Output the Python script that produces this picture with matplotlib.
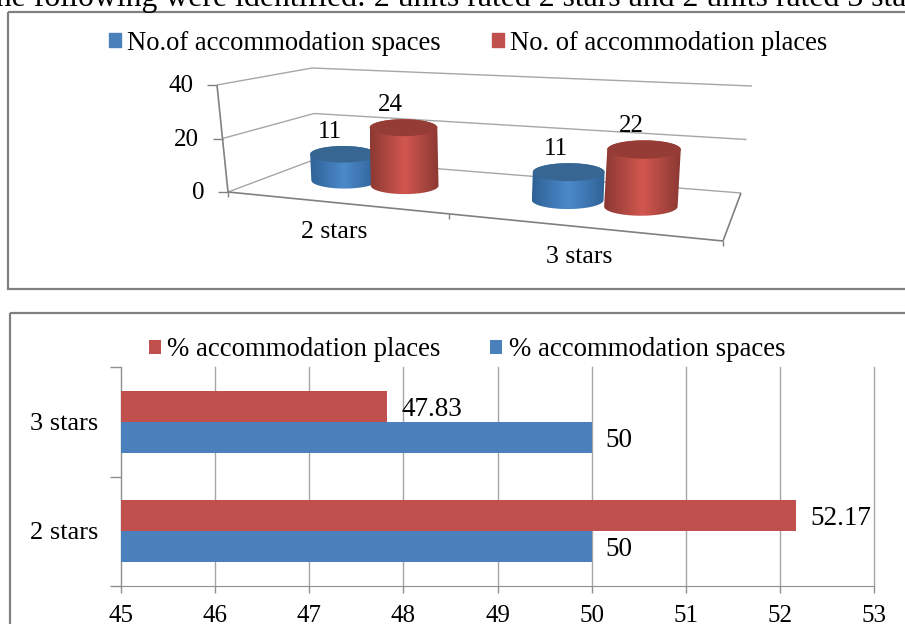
import numpy as np
import matplotlib
matplotlib.use('Agg')
import matplotlib.pyplot as plt
from matplotlib.colors import LinearSegmentedColormap
from matplotlib.patches import Patch, PathPatch, Rectangle
from matplotlib.path import Path

plt.rcParams['font.family'] = ['Liberation Serif', 'DejaVu Serif']

# top chart
categories = ['2 stars', '3 stars']
spaces_no = [11, 11]
places_no = [24, 22]
z_ticks = [0, 20, 40]
legend_top = ['No.of accommodation spaces', 'No. of accommodation places']

# bottom chart
spaces_pct = [50, 50]
places_pct = [52.17, 47.83]
x_ticks = [45, 46, 47, 48, 49, 50, 51, 52, 53]
legend_bottom = ['% accommodation places', '% accommodation spaces']

sentence = 'the following were identified: 2 units rated 2 stars and 2 units rated 3 stars'

BLUE = '#4a81bd'
RED = '#c0504d'
GRID = '#a6a6a6'
W, H = 905, 624

fig = plt.figure(figsize=(W / 100, H / 100), dpi=100)

# whole-figure axes in pixels, for the frames and the 3d box
px = fig.add_axes([0, 0, 1, 1])
px.axis('off')

px.text(-13, 6, sentence, fontsize=22.9, color='black', va='baseline', clip_on=False)
px.add_patch(Rectangle((8, 12), W, 277, fill=False, ec='#808080', lw=1.6))
px.add_patch(Rectangle((10, 313), W, H, fill=False, ec='#808080', lw=1.6))

# floor of the 3d box: front left, front right, back right, back left
floor = np.array([[228, 192], [723, 241], [741, 193], [316, 159]], float)
# where the same corners end up at z = 40
roof = np.array([[217, 85], [730, 120], [752, 86], [312, 68]], float)


def homography(quad):
    rows, rhs = [], []
    for (u, v), (x, y) in zip([(0, 0), (1, 0), (1, 1), (0, 1)], quad):
        rows.append([u, v, 1, 0, 0, 0, -u * x, -v * x])
        rows.append([0, 0, 0, u, v, 1, -u * y, -v * y])
        rhs += [x, y]
    return np.append(np.linalg.solve(np.array(rows), np.array(rhs)), 1).reshape(3, 3)


HOMO = homography(floor)


def project(u, v, z=0):
    p = HOMO @ np.array([u, v, 1.0])
    base = p[:2] / p[2]
    lift = (1 - u) * (1 - v) * (roof[0] - floor[0]) + u * (1 - v) * (roof[1] - floor[1]) \
        + u * v * (roof[2] - floor[2]) + (1 - u) * v * (roof[3] - floor[3])
    return base + lift * z / 40


def segment(a, b, color=GRID, lw=1.0, zorder=1):
    px.plot([a[0], b[0]], [a[1], b[1]], color=color, lw=lw, zorder=zorder, solid_capstyle='butt')


def cylinder(u, v, value, colors, top_color):
    base = project(u, v)
    top = project(u, v, value * 0.93)
    half = 0.085 - 0.017 * u
    rx = np.linalg.norm(project(u + half, v) - project(u - half, v)) / 2
    ry = rx * 0.25
    t = np.linspace(0, np.pi, 60)
    lower = np.c_[base[0] - rx * np.cos(t), base[1] + ry * np.sin(t)]
    upper = np.c_[top[0] + rx * np.cos(t), top[1] - ry * np.sin(t)]
    body = Path(np.r_[lower, upper, lower[:1]], closed=True)
    left, right = min(base[0], top[0]) - rx, max(base[0], top[0]) + rx
    cmap = LinearSegmentedColormap.from_list('shade', colors)
    img = px.imshow(np.linspace(0, 1, 128).reshape(1, -1), cmap=cmap, aspect='auto', zorder=3,
                    extent=(left, right, base[1] + ry + 2, top[1] - ry - 2))
    img.set_clip_path(PathPatch(body, transform=px.transData))
    t2 = np.linspace(0, 2 * np.pi, 80)
    px.fill(top[0] + rx * np.cos(t2), top[1] + ry * np.sin(t2), color=top_color, lw=0, zorder=3)
    return top[0], top[1] - ry


# walls and gridlines
for z in z_ticks:
    segment(project(0, 0, z), project(0, 1, z))
    segment(project(0, 1, z), project(1, 1, z))
    a = project(0, 0, z)
    segment(a, a + [-10, 0], color='#808080')
    px.text(a[0] - 24, a[1] + 1, str(z), ha='right', va='center', fontsize=18)
segment(project(0, 0), project(0, 0, 40), color='#808080', lw=1.2)
segment(project(0, 0), project(1, 0), color='#808080', lw=1.2)
segment(project(1, 0), project(1, 1), color='#808080', lw=1.2)
for u in [0, 0.5, 1]:
    a = project(u, 0)
    segment(a, a + [0, 5], color='#808080')

blue_shade = ['#2f6296', '#4c8acb', '#2f6296']
red_shade = ['#8c3833', '#d2574f', '#8c3833']

for i, cat in enumerate(categories):
    uc = 0.25 + 0.505 * i
    for off, val, shade, top_col in [(-0.073, spaces_no[i], blue_shade, '#376693'),
                                     (0.073, places_no[i], red_shade, '#953c36')]:
        tx, ty = cylinder(uc + off, 0.5, val, shade, top_col)
        px.text(tx - 13, ty - 3, str(val), ha='center', va='bottom', fontsize=18, zorder=5)
    fx, fy = project(0.25 + 0.5 * i, 0)
    px.text(fx + 1, fy + 30, cat, ha='center', va='center', fontsize=18.5)

px.set_xlim(0, W)
px.set_ylim(H, 0)

px.legend(handles=[Patch(color=BLUE, label=legend_top[0]), Patch(color=RED, label=legend_top[1])],
          ncol=2, frameon=False, fontsize=19.2, loc='center', bbox_to_anchor=(468 / W, 1 - 43 / H),
          handlelength=0.45, handleheight=0.45, handletextpad=0.25, columnspacing=1.9)

# bottom chart: horizontal bars
ax = fig.add_axes([121 / W, 1 - 586 / H, (874 - 121) / W, (586 - 367) / H])
y = np.arange(len(categories))
bar_h = 0.285
b_places = ax.barh(y + bar_h / 2, places_pct, bar_h, color=RED, zorder=3, label=legend_bottom[0])
b_spaces = ax.barh(y - bar_h / 2, spaces_pct, bar_h, color=BLUE, zorder=3, label=legend_bottom[1])
ax.set_xlim(x_ticks[0], x_ticks[-1])
ax.set_ylim(-0.5, 1.5)
ax.set_xticks(x_ticks)
ax.set_yticks([-0.5, 0.5, 1.5])
ax.set_yticklabels([])
ax.grid(axis='x', color=GRID, lw=1.0, zorder=0, clip_on=False)
for s in ['top', 'right']:
    ax.spines[s].set_visible(False)
for s in ['left', 'bottom']:
    ax.spines[s].set_color('#909090')
ax.tick_params(axis='y', color='#909090', length=8, width=1)
ax.tick_params(axis='x', color='#909090', length=5, width=1, labelsize=18, pad=9)
for i, cat in enumerate(categories):
    ax.annotate(cat, (45, y[i]), xytext=(-57, -2), textcoords='offset pixels', ha='center', va='center',
                fontsize=19)
for pos, vals in [(y + bar_h / 2, places_pct), (y - bar_h / 2, spaces_pct)]:
    for yy, v in zip(pos, vals):
        ax.annotate(f'{v:g}', (v, yy), xytext=(14, -3), textcoords='offset pixels', ha='left', va='center',
                    fontsize=19.5, zorder=5)

ax.legend(handles=[b_places, b_spaces], ncol=2, frameon=False, fontsize=19.3, loc='center',
          bbox_to_anchor=((467 - 121) / (874 - 121), (586 - 350) / (586 - 367)),
          handlelength=0.45, handleheight=0.45, handletextpad=0.25, columnspacing=1.85)

fig.savefig('out.png', dpi=100)
